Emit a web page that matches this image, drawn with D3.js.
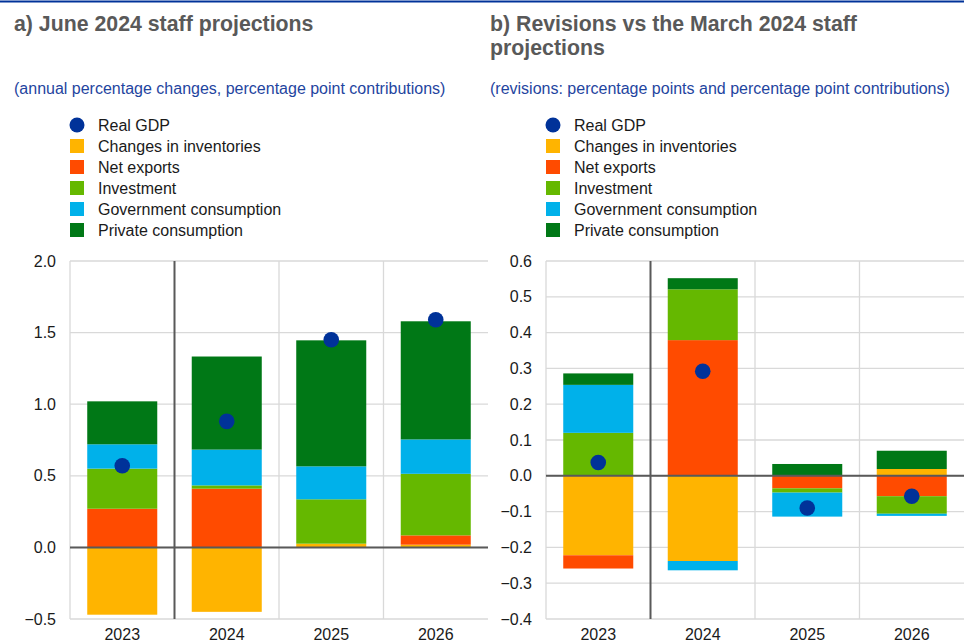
<!DOCTYPE html>
<html>
<head>
<meta charset="utf-8">
<script src="https://cdn.jsdelivr.net/npm/d3@7"></script>
<style>
  body { margin: 0; background: #fff; }
  svg { display: block; font-family: Arial, "Liberation Sans", sans-serif; }
</style>
</head>
<body>
<div class="chart"></div>
<script>
// categories
const years = ["2023", "2024", "2025", "2026"];
const seriesNames = ["Changes in inventories", "Net exports", "Investment", "Government consumption", "Private consumption"];
const seriesColors = ["#ffb400", "#ff4b00", "#65b800", "#00b1ea", "#007816"];

// a) June 2024 staff projections
const juneInventories = [-0.47, -0.45, 0.026, 0.019];
const juneNetExports = [0.27, 0.41, 0.0, 0.065];
const juneInvestment = [0.28, 0.023, 0.31, 0.43];
const juneGovernment = [0.17, 0.25, 0.23, 0.24];
const junePrivate = [0.30, 0.65, 0.88, 0.825];
const juneGDP = [0.57, 0.88, 1.45, 1.59];
const juneTicks = [-0.5, 0.0, 0.5, 1.0, 1.5, 2.0];

// b) revisions vs March 2024
const revInventories = [-0.222, -0.238, 0.0, 0.019];
const revNetExports = [-0.037, 0.379, -0.035, -0.057];
const revInvestment = [0.12, 0.142, -0.012, -0.049];
const revGovernment = [0.134, -0.026, -0.067, -0.006];
const revPrivate = [0.032, 0.031, 0.033, 0.051];
const revGDP = [0.037, 0.292, -0.09, -0.057];
const revTicks = [-0.4, -0.3, -0.2, -0.1, 0.0, 0.1, 0.2, 0.3, 0.4, 0.5, 0.6];

const W = 964, H = 644;

const svg = d3.select(".chart").append("svg")
  .attr("width", W)
  .attr("height", H);

// top rule
svg.append("line")
  .attr("x1", 0).attr("x2", W)
  .attr("y1", 1.5).attr("y2", 1.5)
  .attr("stroke", "#003299")
  .attr("stroke-width", 2);

function panel(opts) {
  const g = svg.append("g").attr("transform", `translate(${opts.dx},0)`);
  const plotLeft = 70, plotWidth = 418, top = 261, bottom = 619;

  // titles
  const title = g.append("text")
    .attr("font-size", "21.3px")
    .attr("font-weight", "bold")
    .attr("fill", "#595959");
  opts.title.forEach((t, i) => {
    title.append("tspan").attr("x", 14).attr("y", 31 + i * 24).text(t);
  });

  g.append("text")
    .attr("x", 14).attr("y", 94)
    .attr("font-size", "16px")
    .attr("fill", "#1f45a0")
    .text(opts.subtitle);

  // legend
  const legend = g.append("g").attr("transform", "translate(0,125)");
  const legendRows = ["Real GDP"].concat(seriesNames);
  legendRows.forEach((name, i) => {
    const row = legend.append("g").attr("transform", `translate(0,${i * 21})`);
    if (i === 0) {
      row.append("circle").attr("cx", 77).attr("cy", 0).attr("r", 7.5).attr("fill", "#003299");
    } else {
      row.append("rect").attr("x", 70).attr("y", -7).attr("width", 14).attr("height", 14)
        .attr("fill", seriesColors[i - 1]);
    }
    row.append("text").attr("x", 98).attr("y", 5.5)
      .attr("font-size", "16px").attr("fill", "#1a1a1a").text(name);
  });

  const xScale = d3.scaleBand()
    .domain(years)
    .range([plotLeft, plotLeft + plotWidth])
    .paddingInner(0.33)
    .paddingOuter(0.165);

  const yScale = d3.scaleLinear()
    .domain([opts.ticks[0], opts.ticks[opts.ticks.length - 1]])
    .range([bottom, top]);

  // horizontal grid
  g.append("g").selectAll("line")
    .data(opts.ticks)
    .join("line")
    .attr("x1", plotLeft).attr("x2", plotLeft + plotWidth)
    .attr("y1", d => yScale(d)).attr("y2", d => yScale(d))
    .attr("stroke", "#d9d9d9").attr("stroke-width", 1.3);

  // vertical grid
  const step = xScale.step();
  g.append("g").selectAll("line")
    .data(d3.range(years.length))
    .join("line")
    .attr("x1", i => plotLeft + i * step).attr("x2", i => plotLeft + i * step)
    .attr("y1", top).attr("y2", bottom)
    .attr("stroke", i => i === 1 ? "#595959" : "#d9d9d9")
    .attr("stroke-width", i => i === 1 ? 2 : 1.3);

  // y axis labels
  const yAxis = d3.axisLeft(yScale)
    .tickValues(opts.ticks)
    .tickFormat(d3.format(".1f"))
    .tickSize(0)
    .tickPadding(14);
  const ya = g.append("g").attr("transform", `translate(${plotLeft},0)`).call(yAxis);
  ya.select(".domain").remove();
  ya.selectAll("text").attr("font-size", "16px").attr("fill", "#1a1a1a")
    .attr("font-family", "Arial, 'Liberation Sans', sans-serif");

  // x axis labels
  const xAxis = d3.axisBottom(xScale).tickSize(0).tickPadding(0);
  const xa = g.append("g").attr("transform", `translate(0,${bottom})`).call(xAxis);
  xa.select(".domain").remove();
  xa.selectAll("text").attr("font-size", "16px").attr("fill", "#1a1a1a")
    .attr("dy", null).attr("y", 21)
    .attr("font-family", "Arial, 'Liberation Sans', sans-serif");

  // stacked bars
  const rows = years.map((y, i) => {
    const r = { year: y };
    seriesNames.forEach((s, k) => { r[s] = opts.series[k][i]; });
    return r;
  });
  const stacked = d3.stack()
    .keys(seriesNames)
    .offset(d3.stackOffsetDiverging)(rows);

  const bw = xScale.bandwidth();
  g.append("g").selectAll("g")
    .data(stacked)
    .join("g")
    .attr("fill", (d, k) => seriesColors[k])
    .selectAll("rect")
    .data(d => d)
    .join("rect")
    .attr("x", d => xScale(d.data.year))
    .attr("width", bw)
    .attr("y", d => yScale(Math.max(d[0], d[1])))
    .attr("height", d => Math.abs(yScale(d[0]) - yScale(d[1])));

  // zero line
  g.append("line")
    .attr("x1", plotLeft).attr("x2", plotLeft + plotWidth)
    .attr("y1", yScale(0)).attr("y2", yScale(0))
    .attr("stroke", "#595959").attr("stroke-width", 2);

  // GDP dots
  g.append("g").selectAll("circle")
    .data(opts.gdp)
    .join("circle")
    .attr("cx", (d, i) => xScale(years[i]) + bw / 2)
    .attr("cy", d => yScale(d))
    .attr("r", 7.8)
    .attr("fill", "#003299");
}

panel({
  dx: 0,
  title: ["a) June 2024 staff projections"],
  subtitle: "(annual percentage changes, percentage point contributions)",
  ticks: juneTicks,
  series: [juneInventories, juneNetExports, juneInvestment, juneGovernment, junePrivate],
  gdp: juneGDP
});

panel({
  dx: 476,
  title: ["b) Revisions vs the March 2024 staff", "projections"],
  subtitle: "(revisions: percentage points and percentage point contributions)",
  ticks: revTicks,
  series: [revInventories, revNetExports, revInvestment, revGovernment, revPrivate],
  gdp: revGDP
});
</script>
</body>
</html>
